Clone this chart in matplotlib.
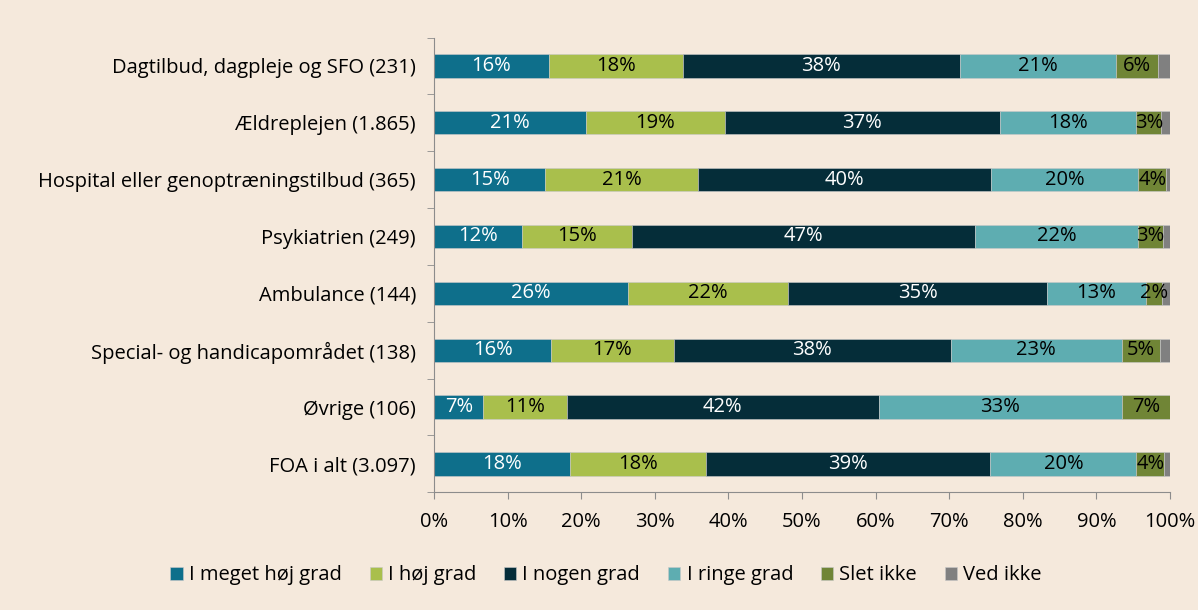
import numpy as np
import matplotlib
matplotlib.use("Agg")
import matplotlib.pyplot as plt

categories = ["Dagtilbud, dagpleje og SFO (231)", "Ældreplejen (1.865)",
              "Hospital eller genoptræningstilbud (365)", "Psykiatrien (249)",
              "Ambulance (144)", "Special- og handicapområdet (138)",
              "Øvrige (106)", "FOA i alt (3.097)"]
series = ["I meget høj grad", "I høj grad", "I nogen grad", "I ringe grad", "Slet ikke", "Ved ikke"]

meget_hoj = [15.6, 20.6, 15.1, 12.0, 26.4, 15.9, 6.7, 18.5]
hoj = [18.2, 18.9, 20.8, 14.9, 21.7, 16.7, 11.3, 18.5]
nogen = [37.6, 37.4, 39.8, 46.6, 35.2, 37.6, 42.5, 38.6]
ringe = [21.2, 18.5, 20.0, 22.1, 13.4, 23.2, 32.9, 19.8]
slet_ikke = [5.7, 3.4, 3.8, 3.4, 2.2, 5.2, 6.7, 3.8]
ved_ikke = [1.7, 1.2, 0.5, 1.0, 1.1, 1.4, 0.0, 0.8]

colors = ["#0e6f8b", "#a9bf4c", "#052d39", "#5eadb1", "#708536", "#808080"]
text_colors = ["white", "black", "white", "black", "black", None]

plt.rcParams['font.family'] = ['Open Sans', 'DejaVu Sans']
bg = "#f5e9dc"
fs = 14.5

fig = plt.figure(figsize=(11.98, 6.10), dpi=100, facecolor=bg)
ax = fig.add_axes([0.3623, 0.193, 0.6144, 0.7455])
ax.set_facecolor(bg)

data = [meget_hoj, hoj, nogen, ringe, slet_ikke, ved_ikke]
y = np.arange(len(categories))
left = np.zeros(len(categories))
for vals, name, col, tcol in zip(data, series, colors, text_colors):
    vals = np.array(vals)
    ax.barh(y, vals, left=left, height=0.41, color=col, label=name,
            edgecolor="#c9c9c9", linewidth=0.4)
    if tcol is not None:
        for yi, (l, v) in enumerate(zip(left, vals)):
            ax.text(l + v / 2, yi, f"{round(v):.0f}%", ha="center", va="center",
                    color=tcol, fontsize=fs)
    left += vals

ax.set_xlim(0, 100)
ax.set_ylim(len(categories) - 0.5, -0.5)
ax.set_xticks(np.arange(0, 101, 10))
ax.set_xticklabels([f"{t}%" for t in range(0, 101, 10)], fontsize=fs)
ax.set_yticks(y)
ax.set_yticklabels(categories, fontsize=fs)
ax.set_yticks(np.arange(-0.5, len(categories)), minor=True)
ax.tick_params(axis="y", which="major", length=0, pad=13)
ax.tick_params(axis="y", which="minor", length=5, color="#8c8c8c", direction="out")
ax.tick_params(axis="x", length=5, color="#8c8c8c", pad=9)
for s in ["top", "right"]:
    ax.spines[s].set_visible(False)
for s in ["left", "bottom"]:
    ax.spines[s].set_color("#8c8c8c")

fig.legend(loc="center", bbox_to_anchor=(0.506, 0.057), ncol=6, frameon=False,
           fontsize=fs, handlelength=0.6, handleheight=0.6,
           handletextpad=0.3, columnspacing=1.4)

fig.savefig("out.png", dpi=100, facecolor=bg)
